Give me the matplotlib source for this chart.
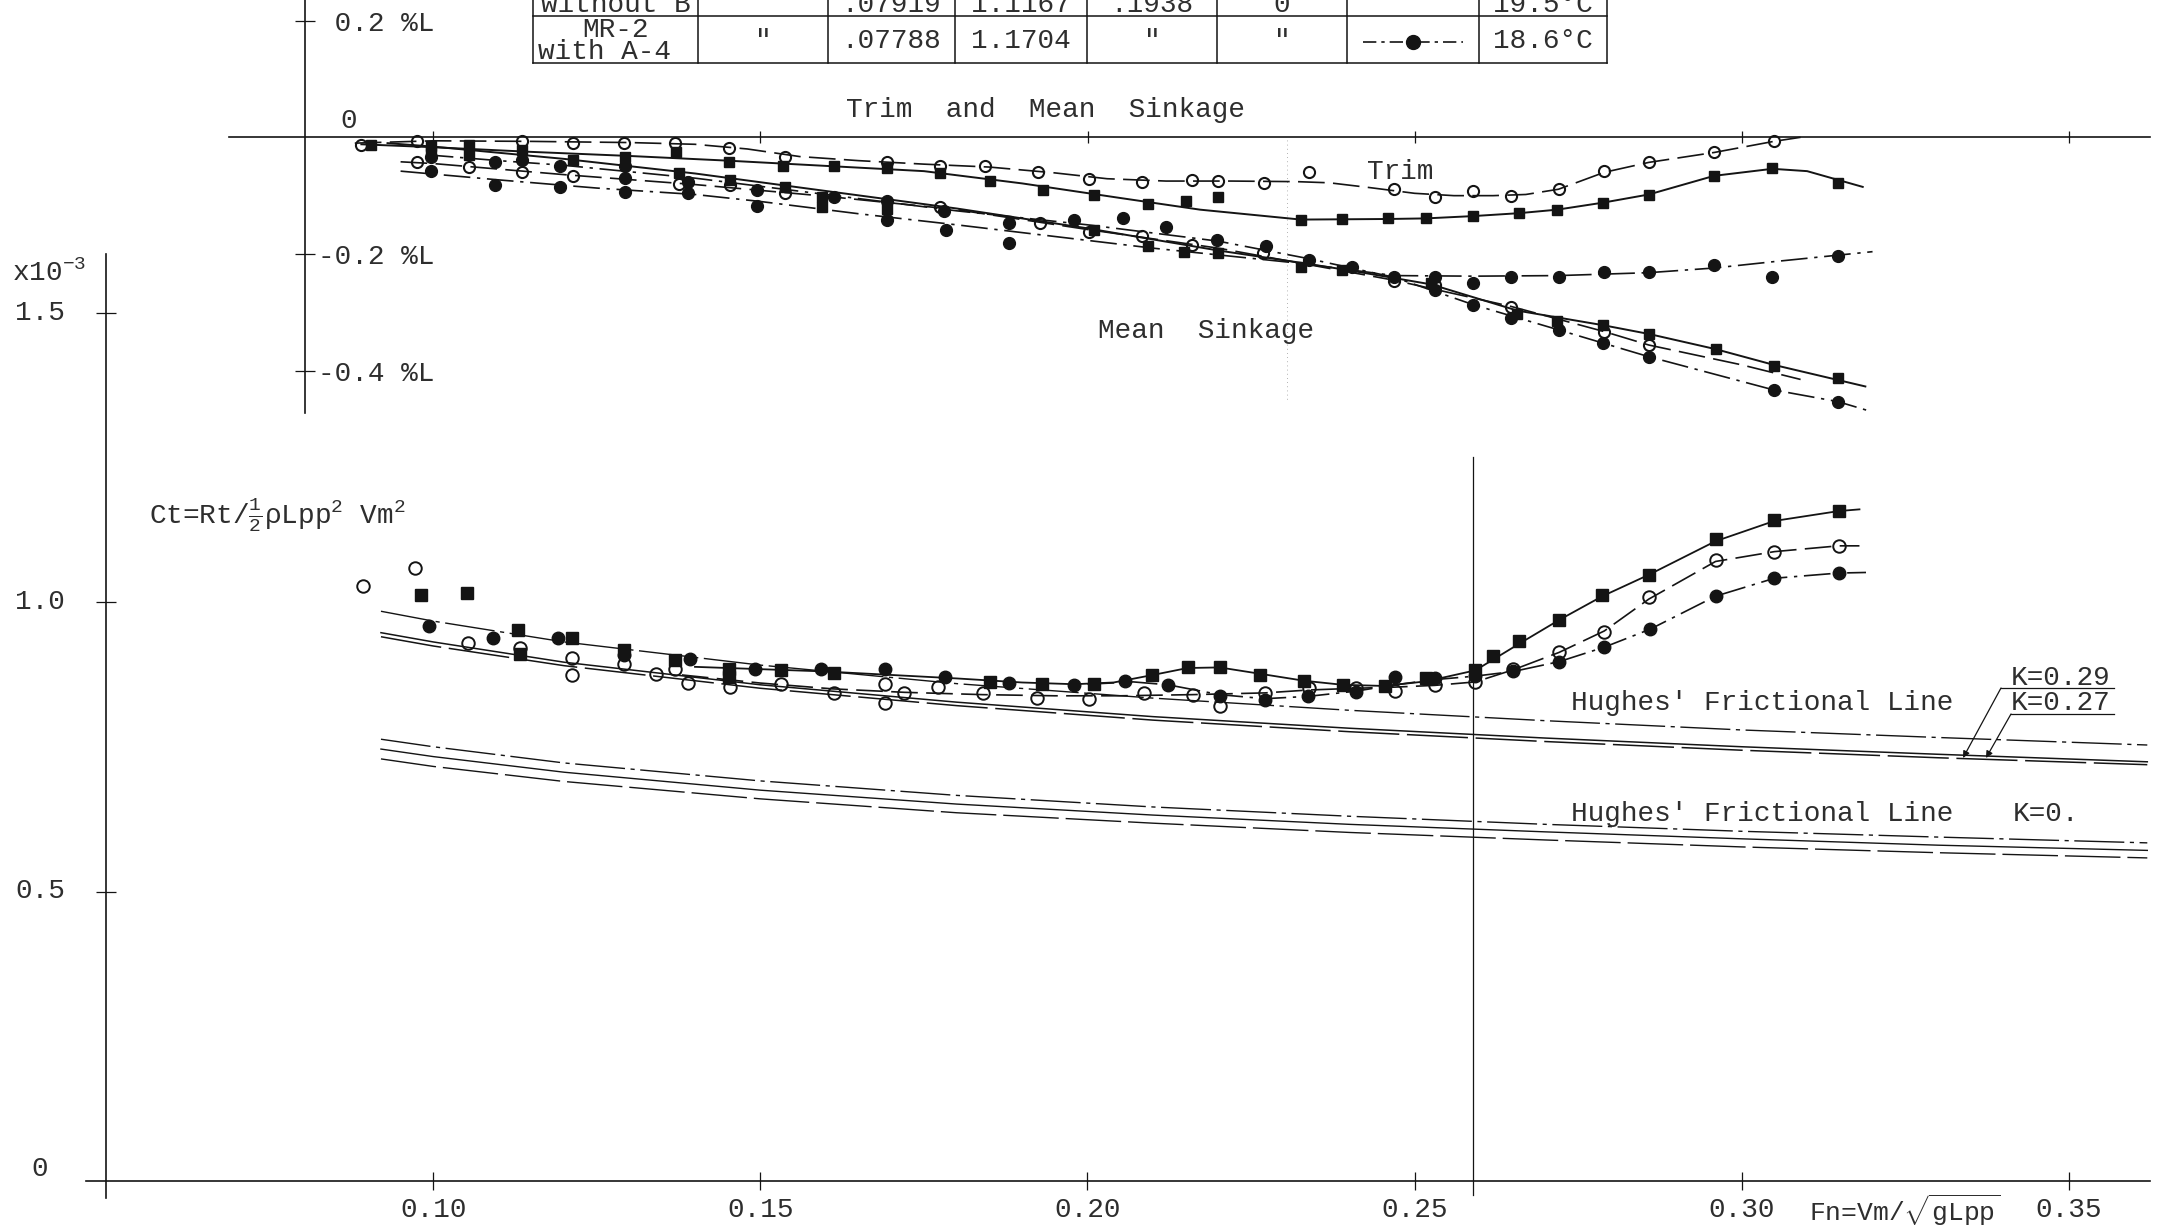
import matplotlib
matplotlib.use("Agg")
import matplotlib.pyplot as plt
from matplotlib.lines import Line2D

# ---------------- data: resistance coefficient Ct (x10^-3) ----------------
ct_sq_fn = [0.0981, 0.1051, 0.1130, 0.1132, 0.1212, 0.1291, 0.1370, 0.1452, 0.1452, 0.1532,
            0.1612, 0.1851, 0.1930, 0.2010, 0.2099, 0.2153, 0.2202, 0.2264, 0.2331, 0.2390,
            0.2454, 0.2518, 0.2593, 0.2620, 0.2660, 0.2721, 0.2787, 0.2858, 0.2960, 0.3050, 0.3148]
ct_sq = [1.012, 1.016, 0.952, 0.911, 0.937, 0.917, 0.900, 0.885, 0.871, 0.883,
         0.878, 0.861, 0.858, 0.858, 0.874, 0.887, 0.887, 0.874, 0.864, 0.857,
         0.855, 0.868, 0.883, 0.906, 0.932, 0.969, 1.012, 1.047, 1.108, 1.142, 1.158]

ct_oc_fn = [0.0892, 0.0972, 0.1053, 0.1132, 0.1212, 0.1212, 0.1291, 0.1340, 0.1370, 0.1390,
            0.1453, 0.1532, 0.1612, 0.1691, 0.1691, 0.1719, 0.1772, 0.1840, 0.1923, 0.2002,
            0.2086, 0.2161, 0.2202, 0.2271, 0.2338, 0.2410, 0.2470, 0.2531, 0.2593, 0.2651,
            0.2721, 0.2790, 0.2858, 0.2960, 0.3050, 0.3148]
ct_oc = [1.028, 1.058, 0.929, 0.920, 0.903, 0.874, 0.893, 0.875, 0.885, 0.860,
         0.854, 0.858, 0.842, 0.858, 0.825, 0.842, 0.854, 0.842, 0.835, 0.832,
         0.842, 0.839, 0.820, 0.843, 0.851, 0.851, 0.847, 0.857, 0.862, 0.885,
         0.914, 0.949, 1.009, 1.073, 1.087, 1.097]

ct_fc_fn = [0.0993, 0.1092, 0.1191, 0.1291, 0.1392, 0.1491, 0.1592, 0.1691, 0.1782, 0.1880,
            0.1980, 0.2057, 0.2123, 0.2202, 0.2271, 0.2337, 0.2410, 0.2470, 0.2531, 0.2593,
            0.2651, 0.2721, 0.2790, 0.2860, 0.2960, 0.3050, 0.3148]
ct_fc = [0.959, 0.937, 0.938, 0.909, 0.901, 0.885, 0.884, 0.884, 0.871, 0.860,
         0.857, 0.864, 0.857, 0.837, 0.831, 0.837, 0.845, 0.870, 0.868, 0.872,
         0.880, 0.897, 0.922, 0.953, 1.010, 1.041, 1.050]

# faired curves
fair_sq_fn = [0.140, 0.150, 0.160, 0.170, 0.180, 0.190, 0.198, 0.204, 0.210, 0.2153, 0.2202, 0.2264,
              0.2331, 0.239, 0.2454, 0.2518, 0.2593, 0.2660, 0.2721, 0.2787, 0.2858, 0.2960, 0.3050,
              0.3148, 0.3180]
fair_sq = [0.888, 0.884, 0.880, 0.874, 0.868, 0.861, 0.858, 0.861, 0.874, 0.886, 0.887, 0.876,
           0.864, 0.857, 0.855, 0.863, 0.882, 0.928, 0.969, 1.010, 1.047, 1.105, 1.140,
           1.157, 1.160]
fair_oc_fn = [0.138, 0.150, 0.161, 0.172, 0.184, 0.195, 0.205, 0.216, 0.2271, 0.2338, 0.241, 0.247,
              0.2531, 0.2593, 0.2651, 0.2721, 0.2790, 0.2858, 0.2960, 0.3050, 0.3148, 0.3180]
fair_oc = [0.874, 0.860, 0.850, 0.844, 0.840, 0.838, 0.838, 0.840, 0.843, 0.848, 0.851, 0.853,
           0.856, 0.862, 0.883, 0.913, 0.950, 1.005, 1.070, 1.087, 1.097, 1.097]
fair_fc_fn = [0.200, 0.207, 0.2123, 0.2202, 0.2271, 0.2337, 0.241, 0.247, 0.2531, 0.2593, 0.2651,
              0.2721, 0.2790, 0.2860, 0.2960, 0.3050, 0.3148, 0.3190]
fair_fc = [0.858, 0.862, 0.857, 0.840, 0.833, 0.837, 0.846, 0.857, 0.866, 0.872, 0.880,
           0.897, 0.922, 0.953, 1.010, 1.041, 1.050, 1.051]

# Hughes' frictional lines
fric_fn = [0.092, 0.10, 0.12, 0.15, 0.18, 0.21, 0.24, 0.27, 0.30, 0.33, 0.362]
fric_k0_a = [0.763, 0.750, 0.722, 0.691, 0.666, 0.646, 0.630, 0.616, 0.604, 0.594, 0.584]
fric_k0_b = [0.746, 0.733, 0.706, 0.675, 0.651, 0.632, 0.616, 0.603, 0.591, 0.580, 0.571]
fric_k0_c = [0.729, 0.716, 0.690, 0.660, 0.636, 0.618, 0.602, 0.589, 0.577, 0.567, 0.558]
fric_k_a = [0.984, 0.967, 0.931, 0.891, 0.859, 0.834, 0.813, 0.795, 0.779, 0.766, 0.753]
fric_k_b = [0.947, 0.931, 0.896, 0.857, 0.827, 0.802, 0.782, 0.765, 0.750, 0.737, 0.724]
fric_k_c = [0.940, 0.924, 0.890, 0.851, 0.821, 0.796, 0.776, 0.759, 0.744, 0.731, 0.719]
fn_design = 0.259

# ---------------- data: trim and mean sinkage (%L) ----------------
trim_oc_fn = [0.0889, 0.0975, 0.1135, 0.1214, 0.1291, 0.1369, 0.1452, 0.1537, 0.1693, 0.1774,
              0.1844, 0.1924, 0.2003, 0.2083, 0.2159, 0.2200, 0.2270, 0.2338, 0.2469, 0.2531,
              0.2590, 0.2648, 0.2720, 0.2790, 0.2858, 0.2958, 0.3049]
trim_oc = [-0.014, -0.006, -0.006, -0.010, -0.010, -0.010, -0.018, -0.033, -0.042, -0.049,
           -0.049, -0.059, -0.072, -0.076, -0.074, -0.075, -0.078, -0.059, -0.089, -0.103,
           -0.092, -0.100, -0.089, -0.058, -0.043, -0.026, -0.007]
trim_oc_line_fn = [0.088, 0.100, 0.115, 0.130, 0.140, 0.148, 0.156, 0.165, 0.175, 0.185, 0.195,
                   0.203, 0.212, 0.222, 0.232, 0.237, 0.243, 0.250, 0.256, 0.262, 0.267, 0.272,
                   0.279, 0.2858, 0.2958, 0.3049, 0.309]
trim_oc_line = [-0.010, -0.006, -0.007, -0.009, -0.012, -0.020, -0.033, -0.040, -0.046, -0.051,
                -0.061, -0.071, -0.075, -0.075, -0.076, -0.078, -0.086, -0.096, -0.100, -0.100,
                -0.098, -0.089, -0.060, -0.043, -0.026, -0.007, 0.000]

trim_sq_fn = [0.0905, 0.0996, 0.1055, 0.1135, 0.1213, 0.1293, 0.1371, 0.1452, 0.1534, 0.1613,
              0.1693, 0.1774, 0.1851, 0.1932, 0.2010, 0.2093, 0.2150, 0.2200, 0.2326, 0.2389,
              0.2459, 0.2517, 0.2590, 0.2660, 0.2718, 0.2788, 0.2858, 0.2958, 0.3047, 0.3147]
trim_sq = [-0.014, -0.015, -0.013, -0.022, -0.039, -0.033, -0.025, -0.042, -0.050, -0.050,
           -0.053, -0.061, -0.075, -0.090, -0.099, -0.115, -0.109, -0.103, -0.142, -0.140,
           -0.139, -0.139, -0.135, -0.130, -0.125, -0.113, -0.099, -0.066, -0.053, -0.079]
trim_sq_line_fn = [0.089, 0.100, 0.115, 0.130, 0.145, 0.160, 0.175, 0.190, 0.205, 0.2172, 0.2326,
                   0.2459, 0.2517, 0.2590, 0.2660, 0.2718, 0.2788, 0.2858, 0.2958, 0.3047, 0.3100,
                   0.3185]
trim_sq_line = [-0.012, -0.017, -0.025, -0.032, -0.040, -0.049, -0.058, -0.079, -0.104, -0.124,
                -0.141, -0.140, -0.139, -0.135, -0.130, -0.124, -0.112, -0.098, -0.066, -0.054,
                -0.058, -0.085]

trim_fc_fn = [0.0996, 0.1095, 0.1194, 0.1293, 0.1293, 0.1390, 0.1495, 0.1693, 0.1784, 0.1880,
              0.2531, 0.2590, 0.2648, 0.2720, 0.2790, 0.2858, 0.2958, 0.3047, 0.3147]
trim_fc = [-0.058, -0.082, -0.086, -0.070, -0.093, -0.096, -0.117, -0.141, -0.159, -0.182,
           -0.239, -0.249, -0.239, -0.239, -0.230, -0.230, -0.219, -0.239, -0.204]
trim_fc_line_fn = [0.095, 0.110, 0.125, 0.140, 0.150, 0.165, 0.180, 0.195, 0.210, 0.2325, 0.2469,
                   0.2590, 0.2720, 0.2858, 0.2958, 0.3050, 0.3200]
trim_fc_line = [-0.058, -0.073, -0.087, -0.098, -0.110, -0.131, -0.150, -0.170, -0.190, -0.216,
                -0.237, -0.238, -0.237, -0.232, -0.224, -0.213, -0.196]

sink_sq_fn = [0.0997, 0.1055, 0.1376, 0.1454, 0.1537, 0.1594, 0.1594, 0.1693, 0.2010, 0.2093,
              0.2147, 0.2199, 0.2326, 0.2389, 0.2525, 0.2657, 0.2718, 0.2788, 0.2858, 0.2960,
              0.3049, 0.3147]
sink_sq = [-0.025, -0.030, -0.062, -0.073, -0.086, -0.102, -0.119, -0.123, -0.159, -0.187,
           -0.196, -0.199, -0.222, -0.228, -0.250, -0.302, -0.314, -0.321, -0.337, -0.363,
           -0.392, -0.413]
sink_sq_line_fn = [0.093, 0.100, 0.120, 0.140, 0.160, 0.180, 0.200, 0.220, 0.2326, 0.2400, 0.2525,
                   0.2657, 0.2788, 0.2858, 0.2960, 0.3049, 0.3189]
sink_sq_line = [-0.010, -0.016, -0.037, -0.062, -0.092, -0.122, -0.156, -0.194, -0.215, -0.228,
                -0.252, -0.297, -0.322, -0.337, -0.363, -0.390, -0.427]

sink_oc_fn = [0.0975, 0.1055, 0.1135, 0.1214, 0.1376, 0.1454, 0.1537, 0.1774, 0.1927, 0.2003,
              0.2083, 0.2159, 0.2269, 0.2469, 0.2531, 0.2648, 0.2790, 0.2858]
sink_oc = [-0.042, -0.051, -0.059, -0.066, -0.080, -0.082, -0.096, -0.119, -0.147, -0.162,
           -0.169, -0.185, -0.198, -0.247, -0.253, -0.290, -0.333, -0.356]
sink_oc_line_fn = [0.095, 0.100, 0.120, 0.140, 0.160, 0.180, 0.200, 0.220, 0.2469, 0.2648, 0.2790,
                   0.2858, 0.3000, 0.3090]
sink_oc_line = [-0.042, -0.045, -0.064, -0.081, -0.101, -0.124, -0.158, -0.190, -0.245, -0.290,
                -0.333, -0.356, -0.390, -0.415]

sink_fc_fn = [0.0996, 0.1095, 0.1135, 0.1194, 0.1293, 0.1390, 0.1495, 0.1613, 0.1693, 0.1780,
              0.1880, 0.1980, 0.2054, 0.2120, 0.2198, 0.2273, 0.2338, 0.2405, 0.2469, 0.2531,
              0.2590, 0.2648, 0.2720, 0.2788, 0.2858, 0.3049, 0.3147]
sink_fc = [-0.033, -0.042, -0.039, -0.050, -0.050, -0.076, -0.090, -0.103, -0.110, -0.127,
           -0.147, -0.142, -0.139, -0.153, -0.176, -0.187, -0.210, -0.222, -0.239, -0.262,
           -0.287, -0.310, -0.330, -0.353, -0.376, -0.433, -0.453]
sink_fc_line_fn = [0.099, 0.110, 0.120, 0.140, 0.160, 0.180, 0.200, 0.220, 0.2338, 0.2469, 0.2590,
                   0.2720, 0.2858, 0.3049, 0.3147, 0.3198]
sink_fc_line = [-0.030, -0.040, -0.048, -0.070, -0.098, -0.126, -0.150, -0.178, -0.208, -0.240,
                -0.287, -0.330, -0.376, -0.433, -0.453, -0.470]

# ---------------- tick labels / table text ----------------
fn_ticks = [0.10, 0.15, 0.20, 0.25, 0.30, 0.35]
fn_tick_labels = ["0.10", "0.15", "0.20", "0.25", "0.30", "0.35"]
ct_ticks = [0.5, 1.0, 1.5]
ct_tick_labels = ["0.5", "1.0", "1.5"]
trim_ticks = [0.2, -0.2, -0.4]
trim_tick_labels = [" 0.2 %L", "-0.2 %L", "-0.4 %L"]
table_row_prev = ["without B", "", ".07919", "1.1167", ".1938", "0", "", "19.5°C"]
table_row_last = ["", '"', ".07788", "1.1704", '"', '"', "", "18.6°C"]
table_model_lines = ["MR-2", "with A-4"]

# ---------------- style ----------------
W, H = 2157, 1231
plt.rcParams["font.family"] = ["Liberation Mono", "DejaVu Sans Mono"]
plt.rcParams["mathtext.fontset"] = "custom"
plt.rcParams["mathtext.rm"] = "Liberation Mono"
plt.rcParams["mathtext.tt"] = "Liberation Mono"
plt.rcParams["mathtext.it"] = "Liberation Mono"
plt.rcParams["axes.unicode_minus"] = False
INK = "#141414"
TXT = "#2e2e2e"
FS = 20

DASH = (0, (16, 5))
DASHDOT = (0, (16, 4, 2, 4))
FDASH = (0, (40, 5))
FDASHDOT = (0, (36, 4, 3, 4))


def fn_px(px):
    return 0.10 + (px - 433.3) / 6542.0


def fx(px):
    return px / W


def fy(py):
    return 1 - py / H


fig = plt.figure(figsize=(W / 100, H / 100), dpi=100)
fig.patch.set_facecolor("white")

# ================= Ct axes =================
ct_top_px, ct_bot_px = 254, 1198
ax = fig.add_axes([fx(86), fy(ct_bot_px), (2150 - 86) / W, (ct_bot_px - ct_top_px) / H])
ax.set_xlim(fn_px(86), fn_px(2150))
ax.set_ylim((1181 - ct_bot_px) / 579.0, (1181 - ct_top_px) / 579.0)
ax.patch.set_alpha(0)
for s in ("top", "right"):
    ax.spines[s].set_visible(False)
ax.spines["left"].set_position(("data", 0.05))
ax.spines["bottom"].set_position(("data", 0.0))
for s in ("left", "bottom"):
    ax.spines[s].set_linewidth(1.2)
    ax.spines[s].set_color(INK)
ax.set_xticks(fn_ticks)
ax.set_xticklabels(fn_tick_labels, fontsize=FS, color=TXT)
ax.tick_params(axis="x", direction="inout", length=13, width=0.9, pad=5, color=INK)
ax.set_yticks(ct_ticks)
ax.set_yticklabels([])
ax.tick_params(axis="y", direction="inout", length=15, width=0.9, color=INK)
for v, lab in zip(ct_ticks + [0.0], ct_tick_labels + ["0"]):
    ax.text(fn_px(40), v + (0.02 if v == 0 else 0), lab, fontsize=FS, color=TXT,
            ha="center", va="center", clip_on=False)
ax.text(fn_px(12), (1181 - 273) / 579.0, r"x10$^{-3}$", fontsize=FS, color=TXT,
        ha="left", va="center")
ax.text(fn_px(149), (1181 - 515) / 579.0, r"Ct=Rt/$\frac{1}{2}\rho$Lpp$^2$ Vm$^2$",
        fontsize=FS, color=TXT, ha="left", va="center")
ax.text(fn_px(1905), (1181 - 1210) / 579.0, r"Fn=Vm/$\sqrt{\mathrm{gLpp}}$",
        fontsize=FS - 1, color=TXT, ha="center", va="center", clip_on=False)

ylo, yhi = ax.get_ylim()
ax.axvline(fn_design, ymin=(-0.025 - ylo) / (yhi - ylo), ymax=(1.25 - ylo) / (yhi - ylo),
           color=INK, lw=0.9)

# frictional lines
ax.plot(fric_fn, fric_k0_a, color=INK, lw=1.0, ls=FDASHDOT)
ax.plot(fric_fn, fric_k0_b, color=INK, lw=1.0, ls="-")
ax.plot(fric_fn, fric_k0_c, color=INK, lw=1.0, ls=FDASH)
ax.plot(fric_fn, fric_k_a, color=INK, lw=1.0, ls=FDASHDOT)
ax.plot(fric_fn, fric_k_b, color=INK, lw=1.1, ls="-")
ax.plot(fric_fn, fric_k_c, color=INK, lw=1.1, ls=FDASH)

# faired curves
ax.plot(fair_sq_fn, fair_sq, color=INK, lw=1.3, ls="-")
ax.plot(fair_oc_fn, fair_oc, color=INK, lw=1.2, ls=DASH)
ax.plot(fair_fc_fn, fair_fc, color=INK, lw=1.2, ls=DASHDOT)

# measured points
ax.plot(ct_sq_fn, ct_sq, ls="none", marker="s", ms=8, color=INK)
ax.plot(ct_oc_fn, ct_oc, ls="none", marker="o", ms=9, mfc="none", mec=INK, mew=1.4)
ax.plot(ct_fc_fn, ct_fc, ls="none", marker="o", ms=9, color=INK)

# frictional line labels
ax.text(fn_px(1571), (1181 - 703) / 579.0, "Hughes' Frictional Line", fontsize=FS,
        color=TXT, ha="left", va="center")
ax.text(fn_px(1571), (1181 - 814) / 579.0, "Hughes' Frictional Line", fontsize=FS,
        color=TXT, ha="left", va="center")
ax.text(fn_px(2013), (1181 - 814) / 579.0, "K=0.", fontsize=FS, color=TXT,
        ha="left", va="center")
ax.text(fn_px(2011), (1181 - 678) / 579.0, "K=0.29", fontsize=FS, color=TXT,
        ha="left", va="center")
ax.text(fn_px(2011), (1181 - 703) / 579.0, "K=0.27", fontsize=FS, color=TXT,
        ha="left", va="center")
ax.plot([fn_px(2001), fn_px(2114)], [(1181 - 688) / 579.0] * 2, color=INK, lw=0.9)
ax.plot([fn_px(2011), fn_px(2114)], [(1181 - 714) / 579.0] * 2, color=INK, lw=0.9)
ax.annotate("", xy=(fn_px(1963), (1181 - 758) / 579.0), xytext=(fn_px(2001), (1181 - 688) / 579.0),
            arrowprops=dict(arrowstyle="-|>", lw=0.9, color=INK, mutation_scale=10,
                            shrinkA=0, shrinkB=0))
ax.annotate("", xy=(fn_px(1986), (1181 - 758) / 579.0), xytext=(fn_px(2011), (1181 - 714) / 579.0),
            arrowprops=dict(arrowstyle="-|>", lw=0.9, color=INK, mutation_scale=10,
                            shrinkA=0, shrinkB=0))

# ================= Trim / sinkage axes =================
def tr_val(py):
    return (137.3 - py) / 583.5


tx = fig.add_axes([fx(228.6), fy(413), (2150 - 228.6) / W, 413 / H])
tx.set_xlim(fn_px(228.6), fn_px(2150))
tx.set_ylim(tr_val(413), tr_val(0))
tx.patch.set_alpha(0)
for s in ("top", "left"):
    tx.spines[s].set_visible(False)
tx.spines["right"].set_position(("data", fn_px(305)))
tx.spines["bottom"].set_position(("data", 0.0))
for s in ("right", "bottom"):
    tx.spines[s].set_linewidth(1.2)
    tx.spines[s].set_color(INK)
tx.yaxis.tick_right()
tx.set_yticks(trim_ticks)
tx.set_yticklabels(trim_tick_labels, fontsize=FS, color=TXT)
tx.tick_params(axis="y", direction="inout", length=14, width=0.9, pad=2, color=INK)
tx.set_xticks(fn_ticks)
tx.set_xticklabels([])
tx.tick_params(axis="x", direction="inout", length=9, width=0.9, color=INK)
tx.text(fn_px(340), tr_val(121), "0", fontsize=FS, color=TXT, ha="left", va="center")
tx.text(fn_px(1045), tr_val(110), "Trim  and  Mean  Sinkage", fontsize=FS, color=TXT,
        ha="center", va="center")
tx.text(fn_px(1206), tr_val(331), "Mean  Sinkage", fontsize=FS, color=TXT,
        ha="center", va="center")
tx.text(fn_px(1400), tr_val(172), "Trim", fontsize=FS, color=TXT, ha="center", va="center")
tx.plot([fn_px(1287)] * 2, [tr_val(140), tr_val(400)], color="#999999", lw=0.6, ls=(0, (1, 4)))

# lines
tx.plot(trim_sq_line_fn, trim_sq_line, color=INK, lw=1.4, ls="-")
tx.plot(trim_oc_line_fn, trim_oc_line, color=INK, lw=1.2, ls=DASH)
tx.plot(trim_fc_line_fn, trim_fc_line, color=INK, lw=1.2, ls=DASHDOT)
tx.plot(sink_sq_line_fn, sink_sq_line, color=INK, lw=1.4, ls="-")
tx.plot(sink_oc_line_fn, sink_oc_line, color=INK, lw=1.2, ls=DASH)
tx.plot(sink_fc_line_fn, sink_fc_line, color=INK, lw=1.2, ls=DASHDOT)

# markers
for xs, ys in ((trim_sq_fn, trim_sq), (sink_sq_fn, sink_sq)):
    tx.plot(xs, ys, ls="none", marker="s", ms=7.5, color=INK)
for xs, ys in ((trim_oc_fn, trim_oc), (sink_oc_fn, sink_oc)):
    tx.plot(xs, ys, ls="none", marker="o", ms=8, mfc="none", mec=INK, mew=1.5)
for xs, ys in ((trim_fc_fn, trim_fc), (sink_fc_fn, sink_fc)):
    tx.plot(xs, ys, ls="none", marker="o", ms=8.5, color=INK)

# ================= table (cropped at top) =================
cols_px = [533, 698, 828, 955, 1087, 1217, 1347, 1479, 1607]
for y in (16, 63):
    fig.add_artist(Line2D([fx(cols_px[0]), fx(cols_px[-1])], [fy(y), fy(y)],
                          color=INK, lw=1.1))
for c in cols_px:
    fig.add_artist(Line2D([fx(c), fx(c)], [fy(-2), fy(63)], color=INK, lw=1.1))
centers = [(a + b) / 2 for a, b in zip(cols_px[:-1], cols_px[1:])]
for cx, t in zip(centers, table_row_prev):
    if t:
        fig.text(fx(cx), fy(5), t, fontsize=FS, color=TXT, ha="center", va="center")
for cx, t in zip(centers, table_row_last):
    if t:
        fig.text(fx(cx), fy(41), t, fontsize=FS, color=TXT, ha="center", va="center")
fig.text(fx(615), fy(30), table_model_lines[0], fontsize=FS, color=TXT, ha="center", va="center")
fig.text(fx(538), fy(52), table_model_lines[1], fontsize=FS, color=TXT, ha="left", va="center")
# legend sample for the last row
lx = centers[6]
fig.add_artist(Line2D([fx(lx - 50), fx(lx + 50)], [fy(42), fy(42)], color=INK, lw=1.2,
                      ls=(0, (8, 3, 2, 3))))
fig.add_artist(Line2D([fx(lx)], [fy(42)], color=INK, marker="o", ms=10, ls="none"))

fig.savefig("out.png", dpi=100, facecolor="white")
